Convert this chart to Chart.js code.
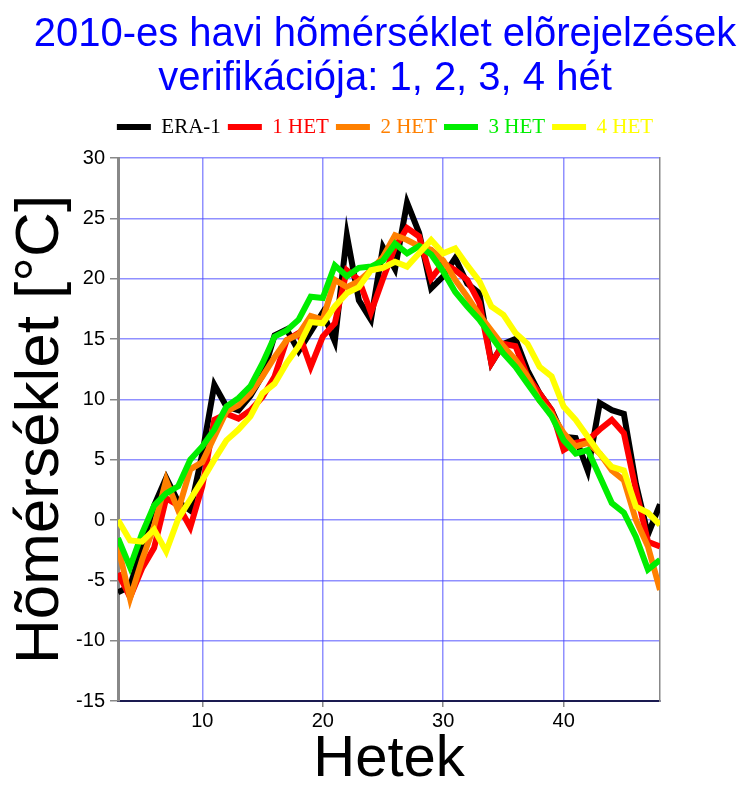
<!DOCTYPE html>
<html>
<head>
<meta charset="utf-8">
<script src="https://cdn.jsdelivr.net/npm/chart.js@4"></script>
<style>
  html, body { margin: 0; padding: 0; background: #fff; }
  #wrap { width: 737px; height: 787px; }
</style>
</head>
<body>
<div id="wrap"><canvas id="temp-chart"></canvas></div>
<script>
const WEEKS = [3, 4, 5, 6, 7, 8, 9, 10, 11, 12, 13, 14, 15, 16, 17, 18, 19, 20, 21, 22, 23, 24, 25,
  26, 27, 28, 29, 30, 31, 32, 33, 34, 35, 36, 37, 38, 39, 40, 41, 42, 43, 44, 45, 46, 47, 48];

const ERA1 = [-6.0, -5.5, -2.2, 1.2, 3.5, 1.5, 0.8, 5.5, 11.2, 9.4, 9.1, 10.3, 12.0, 15.3, 15.8, 14.0,
  15.6, 17.2, 14.8, 23.6, 18.2, 16.6, 22.6, 20.8, 26.3, 23.8, 19.2, 20.2, 21.7, 19.6, 18.8, 13.0,
  14.6, 15.0, 12.4, 10.5, 9.1, 6.9, 6.8, 4.1, 9.7, 9.1, 8.8, 3.0, -1.2, 1.3];
const HET1 = [-4.4, -6.4, -4.0, -2.3, 1.8, 1.2, -0.6, 2.8, 8.3, 8.8, 8.4, 9.1, 10.2, 11.9, 14.9, 15.5,
  12.7, 15.2, 16.3, 20.7, 19.9, 17.2, 20.0, 22.6, 24.2, 23.5, 20.0, 21.3, 20.7, 19.9, 18.0, 13.0,
  14.6, 14.4, 11.9, 10.5, 9.1, 5.8, 6.4, 6.6, 7.5, 8.3, 7.2, 2.5, -1.8, -2.2];
const HET2 = [-2.2, -6.5, -3.3, -0.5, 3.3, 0.8, 4.2, 4.8, 6.9, 9.0, 9.5, 10.5, 11.9, 13.5, 14.9, 15.4,
  16.9, 16.6, 19.9, 19.3, 19.8, 20.7, 21.8, 23.6, 23.2, 22.7, 22.4, 21.5, 19.9, 18.5, 17.0, 15.7,
  14.4, 13.3, 11.9, 9.9, 8.8, 7.2, 6.1, 6.4, 5.5, 4.1, 3.3, 0.0, -2.2, -5.8];
const HET3 = [-1.5, -3.9, -1.1, 1.2, 2.2, 2.8, 5.0, 6.1, 7.5, 9.4, 10.1, 11.1, 13.0, 15.2, 15.7, 16.6,
  18.5, 18.4, 21.1, 20.2, 20.9, 21.0, 21.5, 22.9, 22.1, 22.7, 22.0, 20.6, 18.9, 17.7, 16.6, 15.2,
  13.8, 12.7, 11.3, 9.9, 8.6, 6.6, 5.5, 5.8, 3.6, 1.4, 0.6, -1.4, -4.1, -3.3];
const HET4 = [0.0, -1.7, -1.8, -0.8, -2.6, 0.1, 1.7, 3.3, 5.0, 6.6, 7.5, 8.6, 10.5, 11.3, 13.0, 14.4,
  16.4, 16.3, 17.7, 18.8, 19.3, 20.7, 20.9, 21.4, 21.0, 22.1, 23.2, 22.1, 22.5, 21.1, 19.8, 17.7,
  17.0, 15.5, 14.6, 12.7, 11.9, 9.4, 8.3, 6.9, 5.5, 4.4, 4.1, 1.1, 0.6, -0.4];

const SERIES_LABELS = ['ERA-1', '1 HET', '2 HET', '3 HET', '4 HET'];
const SERIES_COLORS = ['#000000', '#ff0000', '#ff8000', '#00ee00', '#ffff00'];
const SERIES_VALUES = [ERA1, HET1, HET2, HET3, HET4];

const X_TICKS = [10, 20, 30, 40];
const Y_TICKS = [-15, -10, -5, 0, 5, 10, 15, 20, 25, 30];

const GRID_BLUE = 'rgba(70, 70, 255, 0.6)';
const SANS = 'Liberation Sans';

const datasets = SERIES_VALUES.map((vals, i) => ({
  label: SERIES_LABELS[i],
  data: WEEKS.map((w, j) => ({ x: w, y: vals[j] })),
  borderColor: SERIES_COLORS[i],
  backgroundColor: SERIES_COLORS[i],
  borderWidth: 6,
  pointRadius: 0,
  tension: 0,
  // reanalysis at the bottom, the 4-week forecast on top
  order: SERIES_LABELS.length - 1 - i,
}));

new Chart(document.getElementById('temp-chart'), {
  type: 'line',
  data: { datasets },
  options: {
    responsive: true,
    maintainAspectRatio: false,
    animation: false,
    layout: { padding: { left: 33, right: 0, top: 0, bottom: 0 } },
    plugins: {
      tooltip: { enabled: false },
      title: {
        display: true,
        text: ['2010-es havi hõmérséklet elõrejelzések', 'verifikációja: 1, 2, 3, 4 hét'],
        color: '#0000ff',
        font: { family: SANS, size: 40, weight: 'normal', lineHeight: 1.1 },
        padding: { top: 13, bottom: 8.5 },
      },
      legend: {
        display: true,
        labels: {
          font: { family: 'Liberation Serif', size: 21 },
          boxWidth: 34,
          boxHeight: 6,
          padding: 7,
          generateLabels: (chart) => chart.data.datasets.map((ds, i) => ({
            text: ds.label,
            fillStyle: ds.borderColor,
            strokeStyle: ds.borderColor,
            lineWidth: 0,
            fontColor: ds.borderColor,
            datasetIndex: i,
            hidden: false,
          })),
        },
      },
    },
    scales: {
      x: {
        type: 'linear',
        position: 'bottom',
        min: 3,
        max: 48,
        afterBuildTicks: (scale) => { scale.ticks = X_TICKS.map((v) => ({ value: v })); },
        afterFit: (scale) => { scale.height = 86; },
        ticks: { color: '#000', font: { family: SANS, size: 20 }, padding: 2, maxRotation: 0 },
        grid: { color: GRID_BLUE, lineWidth: 1.5, tickLength: 6, tickColor: '#888', tickWidth: 1.5 },
        border: { color: '#1a1a50', width: 2 },
        title: {
          display: true,
          text: 'Hetek',
          color: '#000',
          font: { family: SANS, size: 58, lineHeight: 1 },
          padding: { top: 0, bottom: -2 },
        },
      },
      y: {
        type: 'linear',
        position: 'left',
        min: -15,
        max: 30,
        afterBuildTicks: (scale) => { scale.ticks = Y_TICKS.map((v) => ({ value: v })); },
        afterFit: (scale) => { scale.width = 85; },
        ticks: { color: '#000', font: { family: SANS, size: 20 }, padding: 5 },
        grid: { color: GRID_BLUE, lineWidth: 1.5, tickLength: 8, tickColor: '#888', tickWidth: 1.5 },
        border: { color: '#888', width: 3 },
        title: {
          display: true,
          text: 'Hõmérséklet [°C]',
          color: '#000',
          font: { family: SANS, size: 62, lineHeight: 1 },
          padding: { top: -23, bottom: 0 },
        },
      },
      // thin frame on the right and a small gap under the legend
      right: {
        type: 'linear',
        position: 'right',
        afterFit: (scale) => { scale.width = 77; },
        ticks: { display: false },
        grid: { display: false, drawTicks: false },
        border: { color: '#888', width: 1.5 },
      },
      top: {
        type: 'linear',
        position: 'top',
        afterFit: (scale) => { scale.height = 10.5; },
        ticks: { display: false },
        grid: { display: false, drawTicks: false },
        border: { display: false },
      },
    },
  },
});
</script>
</body>
</html>
